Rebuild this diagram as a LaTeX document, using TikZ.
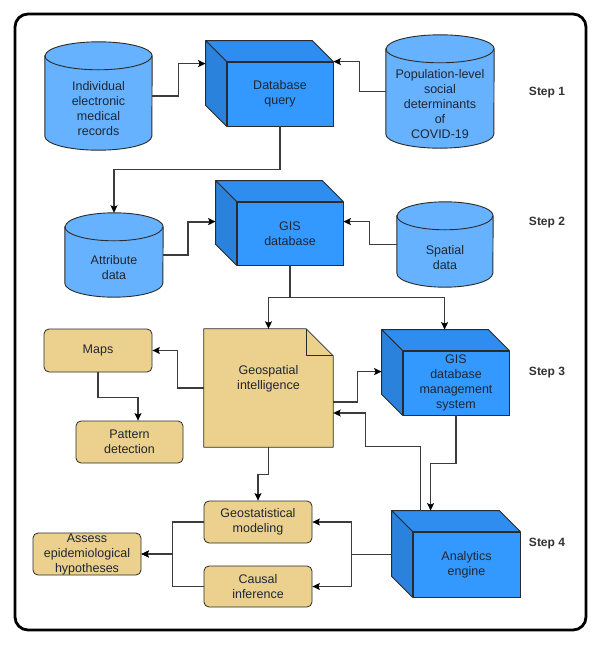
\documentclass[tikz,border=0pt]{standalone}
\usepackage{fontspec}
\setmainfont{Liberation Sans}
\usetikzlibrary{calc,arrows.meta}
\definecolor{cylblue}{HTML}{66B2FF}
\definecolor{cubefrontc}{HTML}{3399FF}
\definecolor{cubetopc}{HTML}{2E8DEE}
\definecolor{cubesidec}{HTML}{2A82DC}
\definecolor{yboxc}{HTML}{EBD18D}
\definecolor{txtc}{HTML}{1F2633}
\definecolor{edgec}{HTML}{2B2B2B}
\definecolor{linec}{HTML}{3C3C3C}
\tikzset{
  lbl/.style={font=\fontsize{12.5}{15}\selectfont, text=txtc, align=center, inner sep=0pt},
  cylbody/.style={fill=cylblue, draw=edgec, line width=0.9pt},
  frontface/.style={fill=cubefrontc, draw=edgec, line width=0.8pt, lbl, inner sep=0pt},
  topface/.style={fill=cubetopc, draw=edgec, line width=0.8pt, line join=round},
  sideface/.style={fill=cubesidec, draw=edgec, line width=0.8pt, line join=round},
  ybox/.style={fill=yboxc, draw=edgec, line width=0.8pt, rounded corners=5pt, lbl},
  conn/.style={draw=linec, line width=1.1pt, -{Stealth[length=7.5pt,width=7pt,inset=1.5pt,color=black]}},
  steplbl/.style={font=\bfseries\fontsize{12}{14}\selectfont, text=black!80, inner sep=0pt},
  ghost/.style={draw=none, inner sep=0pt}
}
\newcommand\mycyl[6]{%
  \node[ghost, minimum width=#4pt, minimum height=#5pt] (#1) at (#2,#3) {};
  \pgfmathsetmacro\cylrx{#4/2}
  \path[cylbody] ($(#1.north west)+(0,14)$) -- ($(#1.south west)+(0,-14)$)
     arc[start angle=180,end angle=360,x radius=\cylrx pt,y radius=14pt]
     -- ($(#1.north east)+(0,14)$)
     arc[start angle=0,end angle=180,x radius=\cylrx pt,y radius=14pt] -- cycle;
  \draw[draw=edgec, line width=0.9pt] ($(#1.north west)+(0,14)$)
     arc[start angle=180,end angle=360,x radius=\cylrx pt,y radius=14pt];
  \node[lbl] (#1-t) at ($(#1.center)+(0,13)$) {#6};
}
\newcommand\mycube[6]{%
  \node[frontface, minimum width=#4pt, minimum height=#5pt] (#1) at (#2,#3) {#6};
  \path[topface] (#1.north west) -- ++(-21,-21) -- ($(#1.north east)+(-21,-21)$) -- (#1.north east) -- cycle;
  \path[sideface] (#1.north west) -- ++(-21,-21) -- ($(#1.south west)+(-21,-21)$) -- (#1.south west) -- cycle;
}
\begin{document}
\begin{tikzpicture}[x=1pt,y=-1pt]
\useasboundingbox (0,0) rectangle (600,646);
\fill[white] (0,0) rectangle (600,646);
\draw[line width=2.8pt, rounded corners=13pt] (15,14) rectangle (586,630);

% cylinders
\mycyl{emr}{98.5}{96}{107}{108}{Individual\\electronic\\medical\\records}
\mycyl{pop}{440}{91.5}{108}{113}{Population-level\\social\\determinants\\of\\COVID-19}
\mycyl{attr}{114}{255}{98}{84}{Attribute\\data}
\mycyl{spat}{445}{244.5}{96}{85}{Spatial\\data}

% cubes
\mycube{dbq}{280}{94}{106}{64}{Database\\query}
\mycube{gisdb}{290}{233.5}{106}{63}{GIS\\database}
\mycube{dbms}{456}{383}{106}{64}{GIS\\database\\management\\system}
\mycube{ana}{466.5}{564.5}{107}{65}{Analytics\\engine}

% document
\node[ghost, minimum width=129pt, minimum height=118pt] (geo) at (268.5,388) {};
\path[fill=yboxc, draw=edgec, line width=0.8pt, line join=round]
  (geo.north west) -- ($(geo.north east)+(-27,0)$) -- ($(geo.north east)+(0,27)$)
  -- (geo.south east) -- (geo.south west) -- cycle;
\draw[draw=edgec, line width=0.8pt, line join=round]
  ($(geo.north east)+(-27,0)$) -- ($(geo.north east)+(-27,27)$) -- ($(geo.north east)+(0,27)$);
\node[lbl] (geo-t) at ($(geo.center)+(0,-9)$) {Geospatial\\intelligence};

% rounded boxes
\node[ybox, minimum width=108pt, minimum height=43pt] (maps) at (98,350.5) {Maps};
\node[ybox, minimum width=107pt, minimum height=42pt] (pat) at (129.5,442) {Pattern\\detection};
\node[ybox, minimum width=108pt, minimum height=42pt] (gst) at (258,522) {Geostatistical\\modeling};
\node[ybox, minimum width=108pt, minimum height=41pt] (cau) at (258,586.5) {Causal\\inference};
\node[ybox, minimum width=108pt, minimum height=42pt] (ass) at (87,554) {Assess\\epidemiological\\hypotheses};

% step labels
\node[steplbl] (s1) at (547,93) {Step 1};
\node[steplbl] (s2) at (547,223) {Step 2};
\node[steplbl] (s3) at (547,373) {Step 3};
\node[steplbl] (s4) at (547,544) {Step 4};

% connectors
\draw[conn] (emr.east) -- ++(26,0) |- ($(dbq.north west)+(-21,2)$);
\draw[conn] (pop.west) -- ++(-26,0) |- (dbq.north east);
\draw[conn] (dbq.south) -- ++(0,43) -| (attr.north);
\draw[conn, line width=1.8pt] (attr.east) -- ++(25,0) |- ($(gisdb.north west)+(-21,20)$);
\draw[conn] (spat.west) -- ++(-27,0) |- ($(gisdb.north east)+(0,20)$);
\draw[conn] (gisdb.south) -- ++(0,32) -| (geo.north);
\draw[conn] (gisdb.south) -- ++(0,32) -| ($(dbms.north west)+(42,-21)$);
\draw[conn] (geo.west) -- ++(-26,0) |- (maps.east);
\draw[conn] (maps.south) -- ++(0,25) -| ($(pat.north)+(8.5,0)$);
\draw[conn] ($(geo.east)+(0,14)$) -- ++(24,0) |- ($(dbms.north west)+(-21,21)$);
\draw[conn] ($(ana.north west)+(8,-21)$) -- ++(0,-64) -- ++(-55,0) |- ($(geo.east)+(0,25)$);
\draw[conn] (dbms.south) -- ++(0,48) -| ($(ana.north west)+(18,-21)$);
\draw[conn] (geo.south) -- ++(0,27) -| (gst.north);
\draw[conn] ($(ana.west)+(-21,-10)$) -- ++(-40,0) |- (gst.east);
\draw[conn] ($(ana.west)+(-21,-10)$) -- ++(-40,0) |- (cau.east);
\draw[conn] (gst.west) -- ++(-31,0) |- (ass.east);
\draw[conn] (cau.west) -- ++(-31,0) |- (ass.east);
\end{tikzpicture}
\end{document}
